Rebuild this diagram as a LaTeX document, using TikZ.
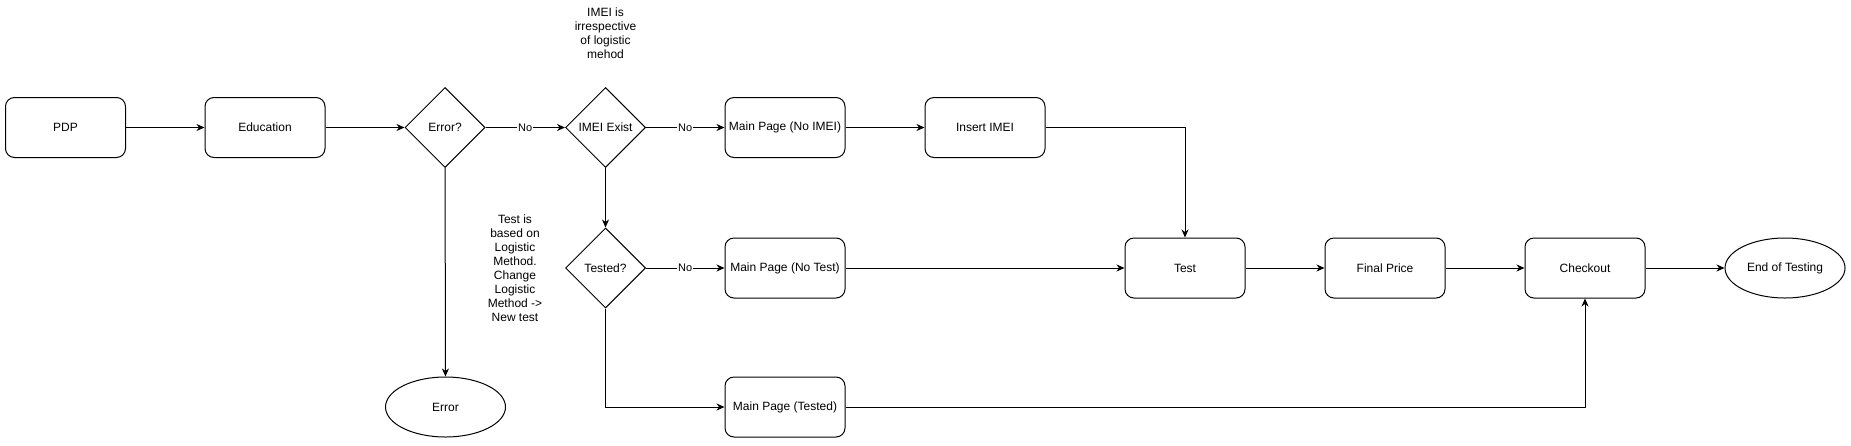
\documentclass[tikz,border=0pt]{standalone}
\usepackage{fontspec}
\setmainfont{Liberation Sans}
\usetikzlibrary{shapes.geometric,arrows.meta}
\begin{document}
\begin{tikzpicture}[x=1pt,y=-1pt,font=\fontsize{12}{14}\selectfont,
  box/.style={draw,rounded corners=9pt,minimum width=120pt,minimum height=60pt,line width=1pt,inner sep=0pt},
  dec/.style={draw,diamond,minimum width=80pt,minimum height=80pt,inner sep=0pt,line width=1pt},
  term/.style={draw,ellipse,minimum width=120pt,minimum height=60pt,line width=1pt,inner sep=0pt},
  note/.style={align=center,inner sep=0pt},
  arr/.style={line width=1pt,-{Stealth[length=8pt,width=7pt,inset=2.5pt]}},
  lbl/.style={fill=white,font=\fontsize{11}{13}\selectfont,inner sep=1pt}]
\useasboundingbox (0,0) rectangle (1851,445);
\node[box] (pdp) at (65.5,127.5) {PDP};
\node[box] (edu) at (265,127.5) {Education};
\node[dec] (err) at (445,127.5) {Error?};
\node[dec] (imei) at (605.5,127.5) {IMEI Exist};
\node[box] (mpni) at (785,127.5) {Main Page (No IMEI)};
\node[box] (ins) at (985,127.5) {Insert IMEI};
\node[dec] (tested) at (605.5,268) {Tested?};
\node[box] (mpnt) at (785,268) {Main Page (No Test)};
\node[box] (test) at (1185,268) {Test};
\node[box] (fp) at (1385,268) {Final Price};
\node[box] (co) at (1585,268) {Checkout};
\node[term] (end) at (1785,268) {End of Testing};
\node[box] (mpt) at (785,407) {Main Page (Tested)};
\node[term] (error) at (445.5,407) {Error};
\node[note] (n1) at (605.5,33) {IMEI is\\irrespective\\of logistic\\mehod};
\node[note] (n2) at (515,268) {Test is\\based on\\Logistic\\Method.\\Change\\Logistic\\Method ->\\New test};
\draw[arr] (pdp) -- (edu);
\draw[arr] (edu) -- (err);
\draw[arr] (err) -- node[lbl]{No} (imei);
\draw[arr] (imei) -- node[lbl]{No} (mpni);
\draw[arr] (mpni) -- (ins);
\draw[arr] (ins) -| (test);
\draw[arr] (imei) -- (tested);
\draw[arr] (tested) -- node[lbl]{No} (mpnt);
\draw[arr] (mpnt) -- (test);
\draw[arr] (test) -- (fp);
\draw[arr] (fp) -- (co);
\draw[arr] (co) -- (end);
\draw[arr] (tested) |- (mpt);
\draw[arr] (mpt) -| (co);
\draw[arr] (err) -- (error);
\end{tikzpicture}
\end{document}
